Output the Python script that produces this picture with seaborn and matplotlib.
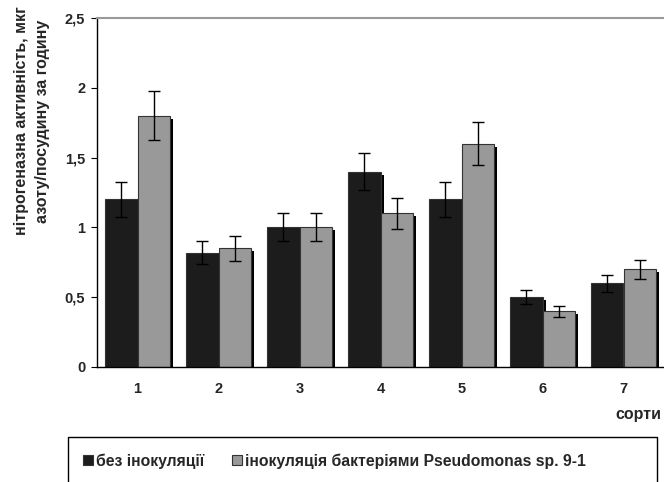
import matplotlib
matplotlib.use("Agg")
import matplotlib.pyplot as plt
import matplotlib.patheffects as pe
from matplotlib.patches import Patch, Rectangle
import seaborn as sns
import pandas as pd
import numpy as np

categories = ["1", "2", "3", "4", "5", "6", "7"]
series_names = ["без інокуляції", "інокуляція бактеріями Pseudomonas sp. 9-1"]
values_control = [1.2, 0.82, 1.0, 1.4, 1.2, 0.5, 0.6]
values_inoc = [1.8, 0.85, 1.0, 1.1, 1.6, 0.4, 0.7]
err_control = [0.125, 0.08, 0.1, 0.13, 0.125, 0.05, 0.06]
err_inoc = [0.175, 0.09, 0.1, 0.11, 0.155, 0.04, 0.07]
ytick_vals = [0, 0.5, 1, 1.5, 2, 2.5]
ytick_labels = ["0", "0,5", "1", "1,5", "2", "2,5"]
colors = ["#1c1c1c", "#999999"]

sns.set_style("white")
plt.rcParams["font.family"] = ["Liberation Sans", "DejaVu Sans"]
plt.rcParams["font.weight"] = "bold"

df = pd.DataFrame({
    "sort": categories * 2,
    "group": [series_names[0]] * 7 + [series_names[1]] * 7,
    "value": values_control + values_inoc,
})

fig = plt.figure(figsize=(6.64, 4.82), dpi=100)
ax = fig.add_axes([97 / 664, 1 - 367 / 482, 1 - 97 / 664, (367 - 18) / 482])

sns.barplot(data=df, x="sort", y="value", hue="group", hue_order=series_names,
            palette=colors, width=0.8, gap=0, errorbar=None, legend=False,
            edgecolor="#333333", linewidth=0.8, ax=ax, saturation=1)

shadow = [pe.SimplePatchShadow(offset=(2.2, -2.2), shadow_rgbFace="black", alpha=1.0), pe.Normal()]
for cont, errs in zip(ax.containers, [err_control, err_inoc]):
    xs = [b.get_x() + b.get_width() / 2 for b in cont]
    hs = [b.get_height() for b in cont]
    for b in cont:
        b.set_path_effects(shadow)
    ax.errorbar(xs, hs, yerr=errs, fmt="none", ecolor="black", elinewidth=1,
                capsize=4, capthick=1, zorder=5)

ax.set_xlim(-0.5, 6.5)
ax.set_ylim(0, 2.5)
ax.set_yticks(ytick_vals)
ax.set_yticklabels(ytick_labels, fontsize=10.5, fontweight="bold")
ax.set_xticks(range(7))
ax.set_xticklabels(categories, fontsize=10.5, fontweight="bold")
ax.set_xticks(np.arange(-0.5, 7, 1), minor=True)
ax.tick_params(axis="x", which="major", length=0, pad=11)
ax.tick_params(axis="x", which="minor", length=3.5, width=0.8, color="black", direction="out")
ax.tick_params(axis="y", which="major", length=4.5, width=0.8, color="black", direction="out", pad=4, left=True)
ax.set_xlabel("")
ax.set_ylabel("")
for s in ["left", "bottom"]:
    ax.spines[s].set_color("black")
    ax.spines[s].set_linewidth(1)
ax.spines["right"].set_visible(False)
ax.spines["top"].set_color("#999999")
ax.spines["top"].set_linewidth(1.5)

fig.text(32 / 664, 1 - 121 / 482, "нітрогеназна активність, мкг\nазоту/посудину за годину",
         rotation=90, ha="center", va="center", fontsize=11.5, fontweight="bold",
         linespacing=1.45, multialignment="center")
fig.text(638 / 664, 1 - 415 / 482, "сорти", ha="center", va="center",
         fontsize=11.5, fontweight="bold")

fig.add_artist(Rectangle((68 / 664, -0.05), (657 - 68) / 664, 0.05 + 1 - 437 / 482,
                         transform=fig.transFigure, fill=False, edgecolor="black",
                         linewidth=1))
handles = [Patch(facecolor=c, edgecolor="#333333", linewidth=0.8) for c in colors]
fig.legend(handles, series_names, loc="center left",
           bbox_to_anchor=(83 / 664, 1 - 461 / 482), ncol=2, frameon=False,
           prop={"size": 11.3, "weight": "bold"}, handlelength=0.65, handleheight=0.65,
           handletextpad=0.15, columnspacing=1.8, borderaxespad=0, borderpad=0)

fig.savefig("out.png", dpi=100)
